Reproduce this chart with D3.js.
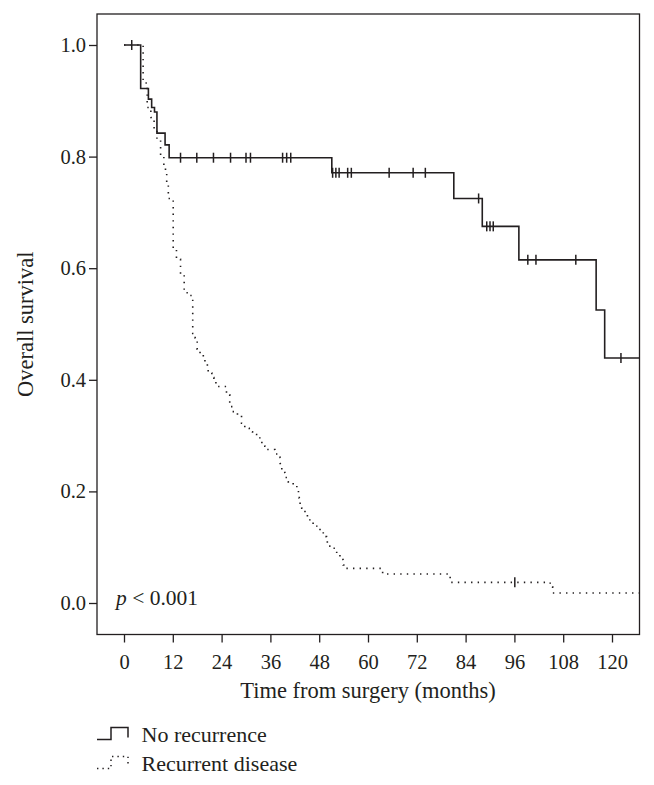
<!DOCTYPE html>
<html>
<head>
<meta charset="utf-8">
<script src="https://cdn.jsdelivr.net/npm/d3@7"></script>
<style>
  html, body { margin: 0; padding: 0; background: #ffffff; }
  svg { display: block; }
  text { font-family: "Liberation Serif", "Times New Roman", serif; fill: #231f20; }
</style>
</head>
<body>
<svg id="chart" width="654" height="785"></svg>
<script>
// ---------- data ----------
const xTicks = [0, 12, 24, 36, 48, 60, 72, 84, 96, 108, 120];
const yTicks = [0.0, 0.2, 0.4, 0.6, 0.8, 1.0];
const seriesNames = ["No recurrence", "Recurrent disease"];
const pValueLabel = "< 0.001";
const followUpEnd = 126.8;

// No recurrence: event times (months) and survival after each drop
const noRecTimes = [4.1, 6.0, 6.8, 7.5, 8.1, 10.1, 11.1, 51.1, 81.1, 88.1, 97.1, 116.1, 118.2];
const noRecSurv  = [0.922, 0.903, 0.888, 0.880, 0.842, 0.821, 0.798, 0.771, 0.725, 0.675, 0.615, 0.525, 0.439];
const noRecCensor = [1.9, 13.9, 17.9, 22.0, 26.2, 30.0, 31.1, 39.0, 40.0, 41.0, 51.3, 52.1, 52.9, 55.0, 55.9,
                     65.2, 71.1, 74.1, 87.2, 89.2, 90.0, 90.8, 99.3, 101.3, 111.1, 122.2];

// Recurrent disease
const recTimes = [4.7, 5.7, 6.6, 7.4, 8.1, 9.0, 9.8, 10.2, 10.5, 10.9, 12.1, 12.9, 13.9, 14.8, 15.9, 16.9,
                  17.5, 18.0, 18.7, 19.5, 19.9, 20.5, 20.7, 21.6, 22.1, 22.6, 25.2, 26.0, 26.7, 27.9, 28.9,
                  29.7, 30.8, 31.6, 32.6, 33.4, 33.9, 34.7, 37.1, 37.9, 38.4, 38.8, 39.6, 40.4, 41.6, 42.5,
                  42.9, 43.1, 43.3, 43.7, 44.5, 45.1, 45.7, 46.5, 47.4, 48.2, 49.0, 49.8, 50.0, 51.5, 52.3,
                  53.1, 53.9, 54.6, 63.6, 80.2, 104.8, 105.4];
const recSurv  = [0.932, 0.888, 0.870, 0.850, 0.830, 0.800, 0.782, 0.770, 0.749, 0.725, 0.636, 0.616, 0.588, 0.556, 0.551, 0.483,
                  0.475, 0.455, 0.446, 0.439, 0.431, 0.421, 0.412, 0.404, 0.397, 0.388, 0.373, 0.352, 0.343, 0.337, 0.322,
                  0.313, 0.307, 0.302, 0.298, 0.289, 0.281, 0.275, 0.267, 0.261, 0.250, 0.234, 0.225, 0.217, 0.211, 0.206,
                  0.198, 0.188, 0.177, 0.170, 0.162, 0.155, 0.147, 0.141, 0.134, 0.128, 0.119, 0.113, 0.102, 0.098, 0.086,
                  0.078, 0.068, 0.062, 0.052, 0.037, 0.029, 0.018];
const recCensor = [96.1];

// ---------- layout ----------
const box = { left: 97, right: 639.5, top: 14, bottom: 634.5 };
const x = d3.scaleLinear().domain([0, 120]).range([124, 612]);
const y = d3.scaleLinear().domain([0, 1]).range([603, 45]);
const ink = "#231f20";

const svg = d3.select("#chart");

// box
svg.append("rect")
  .attr("x", box.left).attr("y", box.top)
  .attr("width", box.right - box.left).attr("height", box.bottom - box.top)
  .attr("fill", "none").attr("stroke", ink).attr("stroke-width", 1.3);

// axes
const gx = svg.append("g").attr("transform", `translate(0,${box.bottom})`)
  .call(d3.axisBottom(x).tickValues(xTicks).tickSize(8).tickPadding(12).tickFormat(d3.format("d")));
gx.select(".domain").remove();
gx.selectAll("line").attr("stroke", ink).attr("stroke-width", 1.3);
gx.selectAll("text").attr("font-size", 20.5).attr("fill", ink)
  .style("font-family", '"Liberation Serif", serif');

const gy = svg.append("g").attr("transform", `translate(${box.left},0)`)
  .call(d3.axisLeft(y).tickValues(yTicks).tickSize(8).tickPadding(3).tickFormat(d3.format(".1f")));
gy.select(".domain").remove();
gy.selectAll("line").attr("stroke", ink).attr("stroke-width", 1.3);
gy.selectAll("text").attr("font-size", 20.5).attr("fill", ink)
  .style("font-family", '"Liberation Serif", serif');

// axis titles
svg.append("text")
  .attr("x", (x(0) + x(120)) / 2).attr("y", 698)
  .attr("text-anchor", "middle").attr("font-size", 22.5)
  .text("Time from surgery (months)");
svg.append("text")
  .attr("transform", `translate(33,${(box.top + box.bottom) / 2}) rotate(-90)`)
  .attr("text-anchor", "middle").attr("font-size", 22.5)
  .text("Overall survival");

// curves
function stepPoints(times, surv) {
  const pts = [[0, 1]];
  times.forEach((t, i) => pts.push([t, surv[i]]));
  pts.push([followUpEnd, surv[surv.length - 1]]);
  return pts;
}
function survAt(times, surv, t) {
  let s = 1;
  times.forEach((tt, i) => { if (tt <= t) s = surv[i]; });
  return s;
}
const line = d3.line().x(d => x(d[0])).y(d => y(d[1])).curve(d3.curveStepAfter);

svg.append("path")
  .attr("d", line(stepPoints(recTimes, recSurv)))
  .attr("fill", "none").attr("stroke", ink).attr("stroke-width", 1.6)
  .attr("stroke-dasharray", "1.4,5.2");

svg.append("path")
  .attr("d", line(stepPoints(noRecTimes, noRecSurv)))
  .attr("fill", "none").attr("stroke", ink).attr("stroke-width", 1.6);

// censor marks
function censorMarks(cls, censor, times, surv) {
  svg.selectAll("line." + cls).data(censor).join("line")
    .attr("class", cls)
    .attr("x1", d => x(d)).attr("x2", d => x(d))
    .attr("y1", d => y(survAt(times, surv, d)) - 5)
    .attr("y2", d => y(survAt(times, surv, d)) + 5)
    .attr("stroke", ink).attr("stroke-width", 1.5);
}
censorMarks("c1", noRecCensor, noRecTimes, noRecSurv);
censorMarks("c2", recCensor, recTimes, recSurv);

// p-value
const pt = svg.append("text").attr("x", 116).attr("y", 605).attr("font-size", 21.5);
pt.append("tspan").attr("font-style", "italic").text("p");
pt.append("tspan").text(" " + pValueLabel);

// legend
const legendRows = [
  { name: seriesNames[0], dash: null, base: 741.5 },
  { name: seriesNames[1], dash: "1.4,4", base: 770.5 }
];
legendRows.forEach(r => {
  const b = r.base;
  svg.append("path")
    .attr("d", `M97,${b - 2}H111V${b - 14}H128V${b - 4}`)
    .attr("fill", "none").attr("stroke", ink).attr("stroke-width", 1.5)
    .attr("stroke-dasharray", r.dash);
  svg.append("text").attr("x", 141.5).attr("y", b).attr("font-size", 22).text(r.name);
});
</script>
</body>
</html>
